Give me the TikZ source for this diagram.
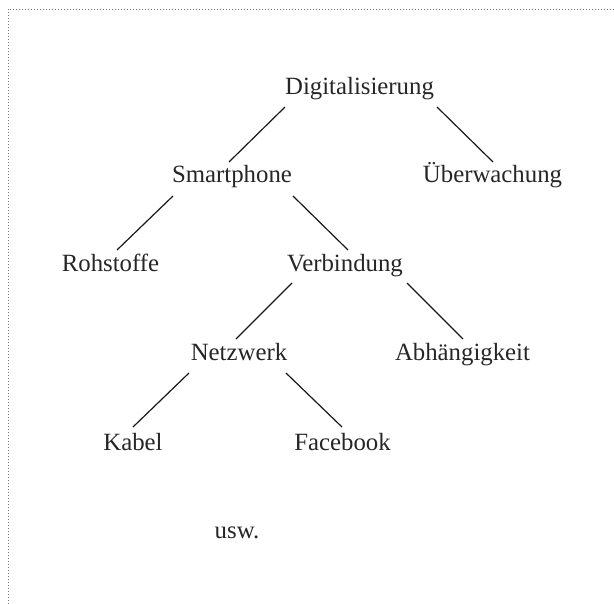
\documentclass[tikz,border=0pt]{standalone}
\usepackage{fontspec}
\setmainfont{Liberation Serif}
\begin{document}
\begin{tikzpicture}[x=1pt,y=-1pt,
  lbl/.style={anchor=base,inner sep=0pt,outer sep=0pt,text=black!85,font=\fontsize{24.8}{29}\selectfont},
  edge/.style={line width=1.2pt,black!90},
  frame/.style={black!55,line width=0.9pt,dash pattern=on 0.9pt off 2.1pt}]
\useasboundingbox (0,0) rectangle (614,604);
\draw[frame] (8,604) -- (8,9) -- (614,9);
\node[lbl] (dig) at (359.5,95) {Digitalisierung};
\node[lbl] (sma) at (232,183) {Smartphone};
\node[lbl] (ueb) at (492.5,183) {Überwachung};
\node[lbl] (roh) at (110.5,272) {Rohstoffe};
\node[lbl] (ver) at (345,272) {Verbindung};
\node[lbl] (net) at (239,361) {Netzwerk};
\node[lbl] (abh) at (462.5,361) {Abhängigkeit};
\node[lbl] (kab) at (133,450) {Kabel};
\node[lbl] (fac) at (342.5,450) {Facebook};
\node[lbl] (usw) at (237,538) {usw.};
\draw[edge] ([shift={(-74.5,12)}]dig.base) -- ([shift={(-3,-21)}]sma.base);
\draw[edge] ([shift={(77.5,12)}]dig.base) -- ([shift={(0.5,-21)}]ueb.base);
\draw[edge] ([shift={(-59,13)}]sma.base) -- ([shift={(6.5,-22)}]roh.base);
\draw[edge] ([shift={(61,13)}]sma.base) -- ([shift={(3,-22)}]ver.base);
\draw[edge] ([shift={(-53,11)}]ver.base) -- ([shift={(-3,-22)}]net.base);
\draw[edge] ([shift={(62,11)}]ver.base) -- ([shift={(0.5,-22)}]abh.base);
\draw[edge] ([shift={(-50,12)}]net.base) -- ([shift={(0,-23)}]kab.base);
\draw[edge] ([shift={(47,12)}]net.base) -- ([shift={(-0.5,-23)}]fac.base);
\end{tikzpicture}
\end{document}
